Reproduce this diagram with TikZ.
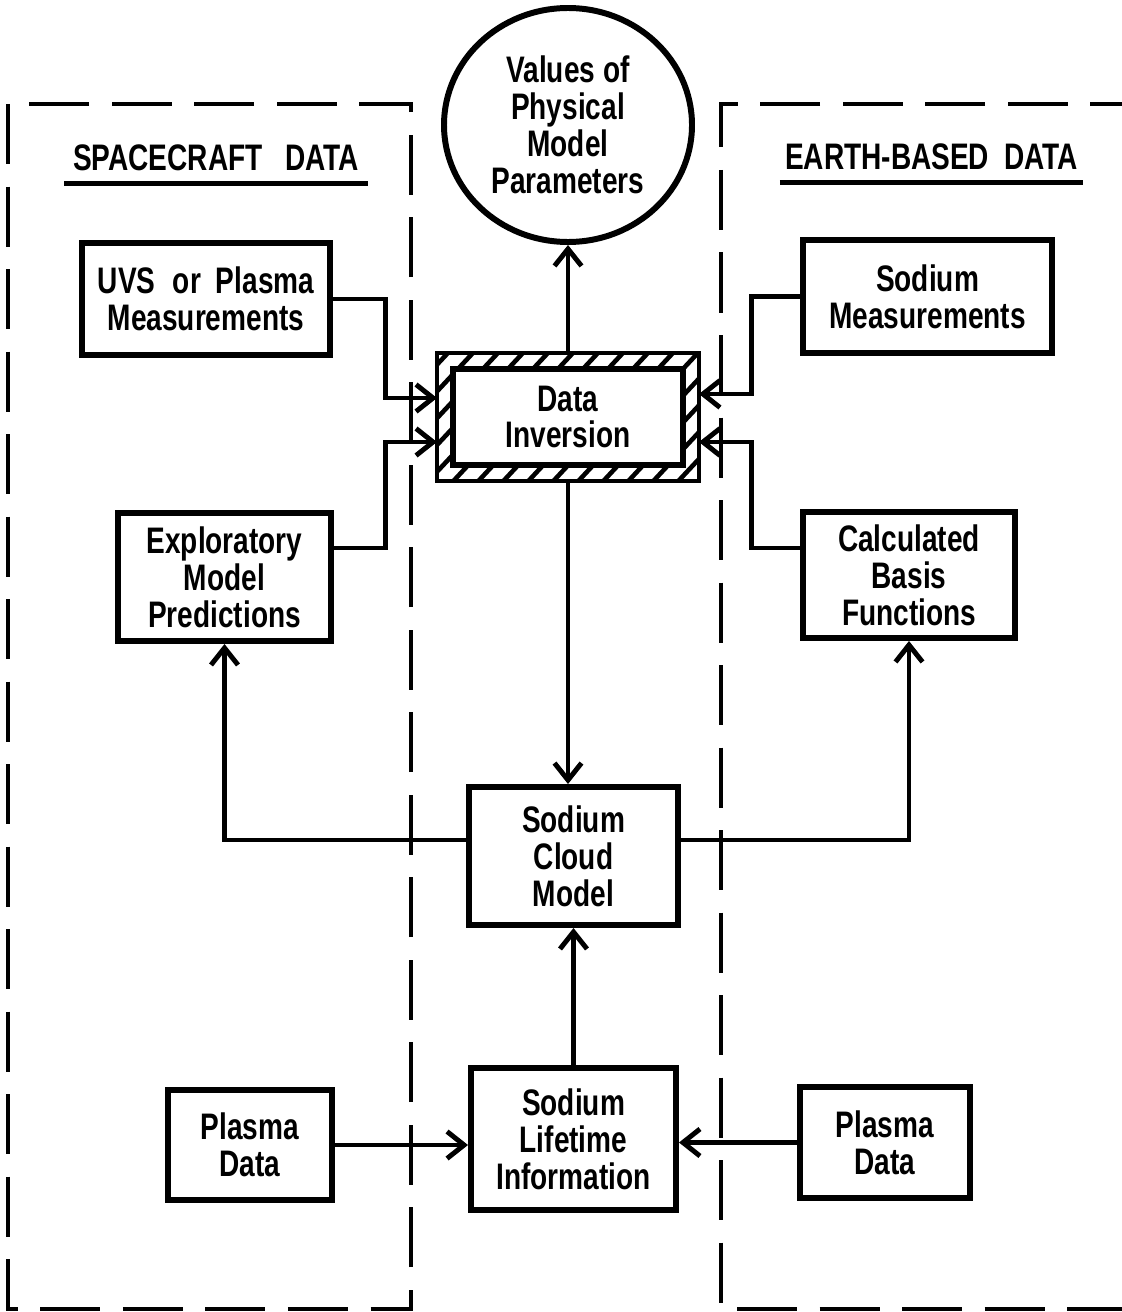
\documentclass[tikz,border=0pt]{standalone}
\usepackage{fontspec}
\newfontfamily\letterfont[FakeStretch=0.76]{Liberation Sans}
\usetikzlibrary{arrows.meta,shapes.geometric}
\begin{document}
\begin{tikzpicture}
	[inner sep=1mm,
	font=\letterfont\bfseries\fontsize{21}{21}\selectfont,
	block/.style={rectangle,draw,line width=3.4pt,align=center},
	oval/.style={ellipse,draw,line width=3.4pt,align=center,inner sep=0pt},
	head/.style={minimum width=6.05cm,minimum height=1cm,inner sep=0pt},
	rule/.style={line width=3.2pt},
	arr/.style={line width=2.8pt,-{Straight Barb[length=3.4mm,width=5.4mm]}},
	frame/.style={line width=2.6pt,dash pattern=on 1.2cm off 0.45cm},
	hatch/.style={line width=2.6pt}]
	\useasboundingbox (0,0) rectangle (22.42,-26.24);
	% data frames
	\draw [frame] (0.16,-2.08) rectangle (8.22,-26.18);
	\draw [frame] (23,-2.08) -| (14.42,-26.18) -- (23,-26.18);
	\node (sc) at (4.32,-3.16) [head] {SPACECRAFT\hspace{0.45cm}DATA};
	\node (eb) at (18.63,-3.14) [head] {EARTH-BASED\hspace{0.3cm}DATA};
	\draw [rule] (sc.south west) -- (sc.south east);
	\draw [rule] (eb.south west) -- (eb.south east);
	% boxes
	\node (vals) at (11.36,-2.5) [oval,minimum width=4.96cm,minimum height=4.68cm] {Values of\\Physical\\Model\\Parameters};
	\node (uvs) at (4.12,-5.98) [block,minimum width=4.96cm,minimum height=2.24cm] {UVS\hspace{0.35cm}or\hspace{0.3cm}Plasma\\Measurements};
	\node (sodmeas) at (18.55,-5.93) [block,minimum width=4.98cm,minimum height=2.26cm] {Sodium\\Measurements};
	\node (inv) at (11.36,-8.34) [block,minimum width=4.6cm,minimum height=1.92cm,outer sep=0.32cm] {Data\\Inversion};
	\node (explor) at (4.49,-11.54) [block,minimum width=4.26cm,minimum height=2.56cm] {Exploratory\\Model\\Predictions};
	\node (calc) at (18.18,-11.5) [block,minimum width=4.24cm,minimum height=2.52cm] {Calculated\\Basis\\Functions};
	\node (cloud) at (11.47,-17.12) [block,minimum width=4.18cm,minimum height=2.76cm] {Sodium\\Cloud\\Model};
	\node (life) at (11.47,-22.78) [block,minimum width=4.1cm,minimum height=2.84cm] {Sodium\\Lifetime\\Information};
	\node (plasmaL) at (5.0,-22.9) [block,minimum width=3.28cm,minimum height=2.2cm] {Plasma\\Data};
	\node (plasmaR) at (17.7,-22.85) [block,minimum width=3.4cm,minimum height=2.22cm] {Plasma\\Data};
	% hatched band round the inversion box
	\begin{scope}[even odd rule]
		\clip (inv.south west) rectangle (inv.north east)
			([shift={(0.32,0.32)}]inv.south west) rectangle ([shift={(-0.32,-0.32)}]inv.north east);
		\foreach \i in {0,...,17}
			\draw [hatch] (5.9+0.5*\i,-9.8) -- ++(2.8,3);
	\end{scope}
	\draw [line width=2.6pt] (inv.south west) rectangle (inv.north east);
	% connectors
	\draw [arr] (uvs.east) -- ++(1.05,0) |- ([yshift=0.38cm]inv.west);
	\draw [arr] ([yshift=0.58cm]explor.east) -- ++(1.03,0) |- ([yshift=-0.5cm]inv.west);
	\draw [arr] (sodmeas.west) -- ++(-0.97,0) |- ([yshift=0.46cm]inv.east);
	\draw [arr] ([yshift=0.54cm]calc.west) -- ++(-0.97,0) |- ([yshift=-0.5cm]inv.east);
	\draw [arr] (inv.north) -- (vals.south);
	\draw [arr] (inv.south) -- (inv.south |- cloud.north);
	\draw [arr] ([yshift=0.32cm]cloud.west) -| (explor.south);
	\draw [arr] ([yshift=0.32cm]cloud.east) -| (calc.south);
	\draw [arr] (life.north) -- (cloud.south);
	\draw [arr] (plasmaL.east) -- (plasmaL.east -| life.west);
	\draw [arr] (plasmaR.west) -- (plasmaR.west -| life.east);
\end{tikzpicture}
\end{document}
